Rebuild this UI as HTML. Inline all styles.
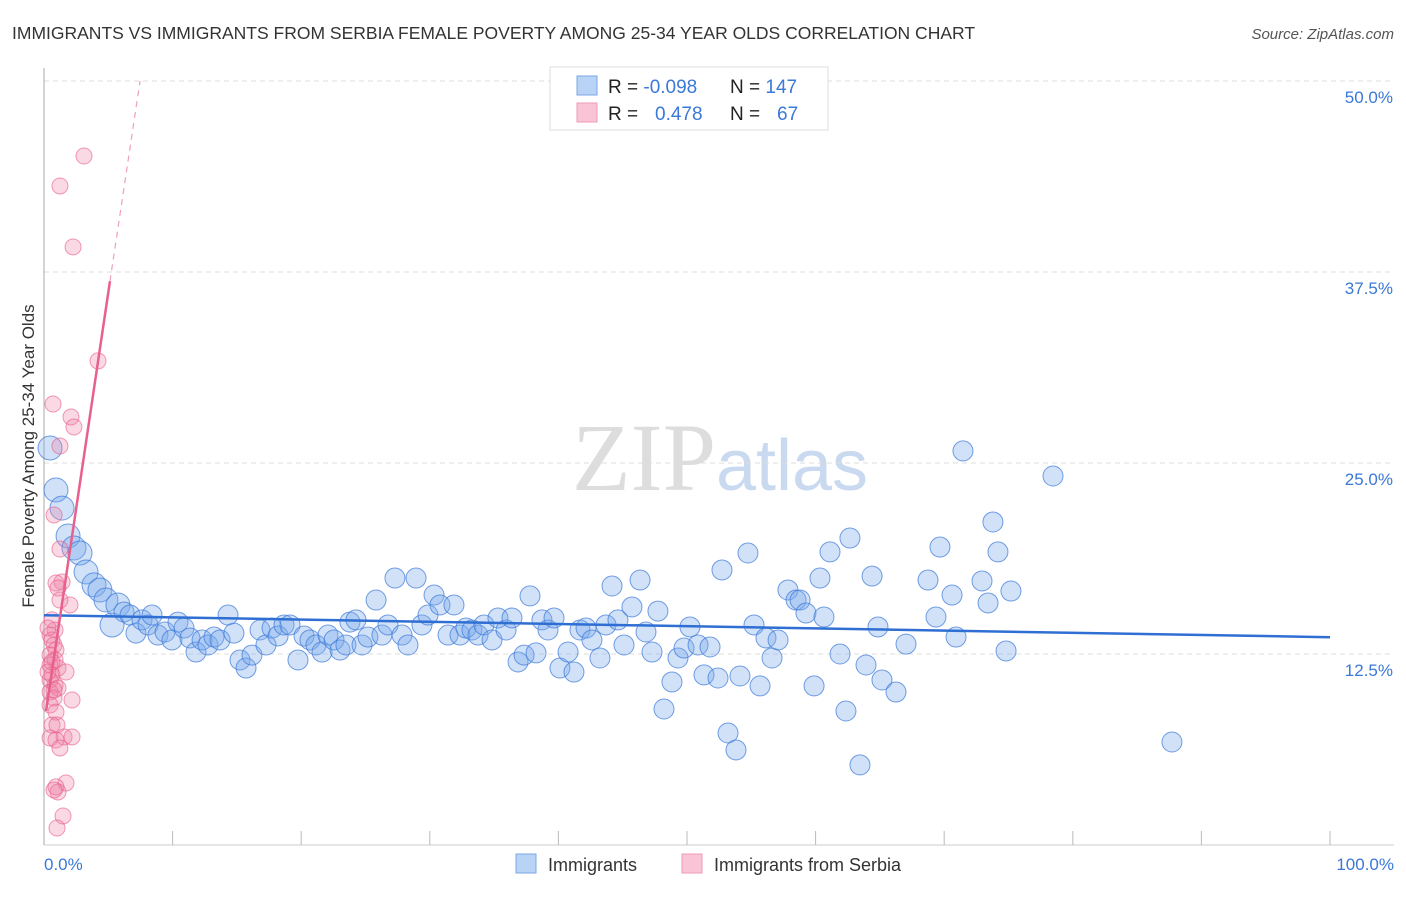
<!DOCTYPE html>
<html><head><meta charset="utf-8"><style>
body{margin:0;background:#fff;width:1406px;height:892px;overflow:hidden;font-family:"Liberation Sans",sans-serif}
</style></head><body>
<svg id="chart" width="1406" height="892" xmlns="http://www.w3.org/2000/svg" font-family="Liberation Sans, sans-serif">
<text x="12" y="39" font-size="17.5" fill="#333">IMMIGRANTS VS IMMIGRANTS FROM SERBIA FEMALE POVERTY AMONG 25-34 YEAR OLDS CORRELATION CHART</text>
<text x="1394" y="39" font-size="15" fill="#555" text-anchor="end" font-style="italic">Source: ZipAtlas.com</text>
<text x="720" y="490" font-size="96" text-anchor="middle" fill="#ddd" font-family="Liberation Serif, serif">ZIP<tspan fill="#c9daf0" font-family="Liberation Sans, sans-serif" font-size="72">atlas</tspan></text>
<g id="grid"></g>
<line x1="44" y1="68" x2="44" y2="845" stroke="#aaa"/>
<line x1="44" y1="845" x2="1394" y2="845" stroke="#ccc"/>
<g id="xticks"></g>
<text transform="translate(34,456) rotate(-90)" font-size="17" fill="#333" text-anchor="middle">Female Poverty Among 25-34 Year Olds</text>
<text x="44" y="870" font-size="17" fill="#3b78d8">0.0%</text>
<text x="1394" y="870" font-size="17" fill="#3b78d8" text-anchor="end">100.0%</text>
<g id="pts"></g>
<g id="lines"></g>
<g>
<rect x="550" y="67" width="278" height="63" fill="#fff" stroke="#ddd"/>
<rect x="577" y="76" width="20" height="19" fill="#b8d3f5" stroke="#7aa7e6"/>
<rect x="577" y="103" width="20" height="19" fill="#f9c5d6" stroke="#ef9ab5"/>
<text x="608" y="93" font-size="19" fill="#222">R = <tspan fill="#3b78d8">-0.098</tspan><tspan x="730">N = </tspan><tspan fill="#3b78d8">147</tspan></text>
<text x="608" y="120" font-size="19" fill="#222">R = <tspan x="655" fill="#3b78d8">0.478</tspan><tspan x="730">N = </tspan><tspan x="777" fill="#3b78d8">67</tspan></text>
</g>
<g>
<rect x="516" y="854" width="20" height="19" fill="#b8d3f5" stroke="#7aa7e6"/>
<text x="548" y="871" font-size="18" fill="#333">Immigrants</text>
<rect x="682" y="854" width="20" height="19" fill="#f9c5d6" stroke="#ef9ab5"/>
<text x="714" y="871" font-size="18" fill="#333">Immigrants from Serbia</text>
</g>
</svg>
<script>
const yTicks=[12.5,25,37.5,50];
const yTickLabels=["12.5%","25.0%","37.5%","50.0%"];
const xTicks=[0,10,20,30,40,50,60,70,80,90,100];
const bluePx=[[50,448],[56,490],[62,508],[68,536],[74,548],[80,553],[86,572],[94,585],[100,590],[106,600],[112,625],[118,605],[124,612],[130,615],[136,633],[142,620],[148,625],[152,615],[158,635],[165,632],[172,640],[178,622],[184,628],[190,638],[196,652],[202,640],[208,645],[214,637],[220,640],[228,615],[234,633],[240,660],[246,668],[252,655],[260,630],[266,645],[272,628],[278,636],[284,625],[290,625],[298,660],[304,636],[310,640],[316,645],[322,652],[328,635],[334,640],[340,650],[346,645],[350,622],[356,620],[362,645],[368,637],[376,600],[382,635],[388,625],[395,578],[402,635],[408,645],[416,578],[422,625],[428,615],[434,595],[440,605],[448,635],[454,605],[460,635],[466,628],[472,630],[478,635],[484,625],[492,640],[498,618],[506,630],[512,618],[518,662],[524,655],[530,596],[536,653],[542,620],[548,630],[554,618],[560,668],[568,652],[574,672],[580,630],[586,628],[592,640],[600,658],[606,625],[612,586],[618,620],[624,645],[632,607],[640,580],[646,632],[652,652],[658,611],[664,709],[672,682],[678,658],[684,648],[690,627],[698,645],[704,675],[710,647],[718,678],[722,570],[728,733],[736,750],[740,676],[748,553],[754,625],[760,686],[766,638],[772,658],[778,640],[788,590],[796,600],[800,600],[806,613],[814,686],[820,578],[824,617],[830,552],[840,654],[846,711],[850,538],[860,765],[866,665],[872,576],[878,627],[882,680],[896,692],[906,644],[928,580],[936,617],[940,547],[952,595],[956,637],[963,451],[982,581],[988,603],[993,522],[998,552],[1006,651],[1011,591],[1053,476],[1172,742]];
const pinkPx=[[84,156],[60,186],[73,247],[98,361],[53,404],[71,417],[74,427],[60,446],[54,515],[60,549],[62,582],[56,583],[58,588],[70,605],[60,600],[52,620],[55,630],[50,635],[52,640],[54,645],[56,650],[50,655],[55,660],[50,665],[58,668],[52,675],[66,672],[50,680],[55,685],[58,688],[50,692],[54,698],[72,700],[50,705],[56,712],[52,725],[57,725],[50,738],[64,737],[72,737],[56,740],[60,748],[66,783],[56,787],[58,792],[54,790],[63,816],[57,828],[48,628],[52,662],[48,672],[54,690]];
// convert reading to data values (%)
const blueX=bluePx.map(p=>+((p[0]-44)/12.86).toFixed(2));
const blueY=bluePx.map(p=>+((845-p[1])/15.28).toFixed(2));
const pinkX=pinkPx.map(p=>+((p[0]-44)/12.86).toFixed(2));
const pinkY=pinkPx.map(p=>+((845-p[1])/15.28).toFixed(2));
const blueTrend=[[0,15.04],[100,13.6]];
const pinkTrend=[[0.16,8.77],[5.13,36.9]];
const pinkTrendDash=[[5.13,36.9],[7.47,50.0]];
const X=v=>44+v*12.86, Y=v=>845-v*15.28;
const NS="http://www.w3.org/2000/svg";
function mk(t,a,p){const e=document.createElementNS(NS,t);for(const k in a)e.setAttribute(k,a[k]);p.appendChild(e);return e;}
const grid=document.getElementById('grid');
yTicks.forEach((v,i)=>{
 const l=mk('line',{x1:44,x2:1394,y1:Y(v),y2:Y(v),stroke:'#ddd','stroke-dasharray':'5,4'},grid);
 
 
 const t=mk('text',{x:1393,y:Y(v)+22,'font-size':17,fill:'#3b78d8','text-anchor':'end'},grid);
 t.textContent=yTickLabels[i];
 
 
});
const xt=document.getElementById('xticks');
xTicks.forEach(v=>{if(v===0)return;
 const l=mk('line',{x1:X(v),x2:X(v),y1:831,y2:845,stroke:'#bbb'},xt);
 
 
});
const pts=document.getElementById('pts');
blueX.forEach((x,i)=>{
 const r=x<6?12:10;
 const c=mk('circle',{cx:X(x),cy:Y(blueY[i]),r:r,fill:'rgba(120,170,235,0.35)',stroke:'rgba(59,120,216,0.7)','stroke-width':1},pts);
 
 
});
pinkX.forEach((x,i)=>{
 const c=mk('circle',{cx:X(x),cy:Y(pinkY[i]),r:8,fill:'rgba(240,130,165,0.3)',stroke:'rgba(232,90,135,0.6)','stroke-width':1},pts);
 
 
});
const ln=document.getElementById('lines');
let l=mk('line',{x1:X(blueTrend[0][0]),y1:Y(blueTrend[0][1]),x2:X(blueTrend[1][0]),y2:Y(blueTrend[1][1]),stroke:'#2f6fd3','stroke-width':2.5},ln);


l=mk('line',{x1:X(pinkTrend[0][0]),y1:Y(pinkTrend[0][1]),x2:X(pinkTrend[1][0]),y2:Y(pinkTrend[1][1]),stroke:'#e8608c','stroke-width':2.5},ln);


l=mk('line',{x1:X(pinkTrendDash[0][0]),y1:Y(pinkTrendDash[0][1]),x2:X(pinkTrendDash[1][0]),y2:Y(pinkTrendDash[1][1]),stroke:'#f0a0b8','stroke-width':1.2,'stroke-dasharray':'6,5'},ln);


</script>
</body></html>
